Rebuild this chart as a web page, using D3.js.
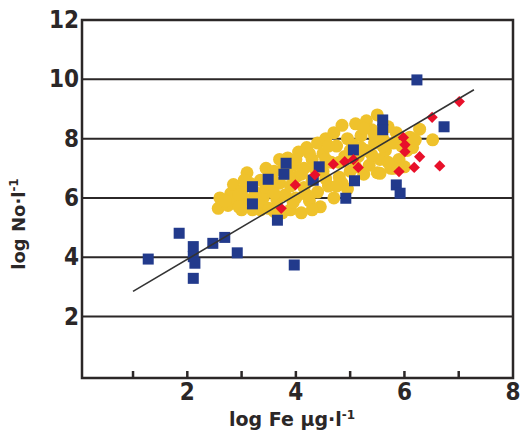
<!DOCTYPE html>
<html>
<head>
<meta charset="utf-8">
<script src="https://cdn.jsdelivr.net/npm/d3@7"></script>
<style>
  body { margin: 0; background: #fff; }
  svg { display: block; }
</style>
</head>
<body>
<div id="chart"></div>
<script>
// --- data (log Fe, log No) ---
const yTicks = [2, 4, 6, 8, 10, 12];
const xTickLabels = [2, 4, 6, 8];
const xTickMarks = [1, 2, 3, 4, 5, 6, 7];

// yellow circles
const circlePts = [
  [2.57, 5.65], [2.60, 6.00], [2.75, 5.75], [2.80, 6.15], [2.85, 6.45], [2.90, 5.90],
  [3.00, 5.60], [3.00, 6.25], [3.10, 6.85], [3.10, 5.95], [3.20, 5.60], [3.25, 6.20],
  [3.35, 5.60], [3.35, 6.60], [3.40, 6.00], [3.45, 7.00], [3.50, 5.65], [3.55, 6.30],
  [3.60, 6.90], [3.65, 5.95], [3.70, 7.30], [3.70, 6.50], [3.75, 5.50], [3.80, 6.10],
  [3.85, 6.80], [3.85, 7.35], [3.90, 5.60], [3.95, 7.10], [4.00, 6.00], [4.00, 6.70],
  [4.05, 7.55], [4.10, 5.50], [4.15, 6.35], [4.15, 7.00], [4.20, 7.70], [4.25, 5.90],
  [4.30, 6.60], [4.30, 7.30], [4.40, 6.20], [4.40, 7.85], [4.45, 5.70], [4.50, 6.90],
  [4.50, 7.50], [4.55, 8.00], [4.60, 6.40], [4.65, 7.20], [4.70, 8.20], [4.70, 6.00],
  [4.75, 7.75], [4.80, 6.70], [4.85, 8.45], [4.90, 7.40], [4.95, 6.30], [4.95, 8.00],
  [5.00, 6.90], [5.05, 7.80], [5.10, 8.50], [5.15, 7.40], [5.20, 8.10], [5.25, 6.80],
  [5.30, 8.60], [5.30, 7.60], [5.35, 7.10], [5.40, 8.30], [5.45, 7.85], [5.50, 8.80],
  [5.50, 6.85], [5.55, 7.30], [5.60, 8.00], [5.65, 7.60], [5.70, 8.40], [5.75, 7.00],
  [5.80, 7.85], [5.85, 8.20], [5.90, 7.30], [6.00, 7.05], [6.05, 7.60], [6.10, 8.05],
  [6.15, 7.70], [6.28, 8.32], [6.52, 7.96], [5.55, 6.83], [5.80, 7.00],
  [2.70, 5.90], [2.95, 6.10], [3.15, 6.50], [3.30, 5.85], [3.45, 6.35], [3.60, 6.15],
  [3.90, 6.40], [3.95, 5.85], [4.10, 6.80], [4.20, 6.10], [4.35, 7.00], [4.55, 6.65],
  [4.60, 7.75], [4.80, 7.20], [4.85, 6.50], [5.00, 7.60], [5.10, 7.05], [5.20, 7.70],
  [5.25, 8.35], [5.40, 7.45], [5.45, 8.10], [5.60, 7.75], [5.70, 7.20], [5.95, 7.75],
  [6.20, 7.95], [4.55, 7.30], [4.25, 7.50], [3.75, 6.95], [3.55, 6.70], [3.05, 6.60],
  [4.00, 7.30], [4.75, 6.40], [4.30, 5.60], [3.60, 5.55], [2.95, 5.70]
];

// blue squares
const squarePts = [
  [1.28, 3.94], [1.85, 4.81], [2.11, 4.36], [2.11, 4.02], [2.14, 3.80], [2.11, 3.29],
  [2.47, 4.47], [2.69, 4.67], [2.92, 4.15], [3.66, 5.25], [3.97, 3.74], [3.20, 6.38],
  [3.20, 5.80], [3.49, 6.63], [3.82, 7.17], [3.78, 6.80], [4.43, 7.05], [4.32, 6.60],
  [5.60, 8.63], [5.60, 8.30], [5.06, 7.62], [5.08, 6.58], [4.92, 5.99], [5.85, 6.44],
  [5.92, 6.16], [6.23, 9.98], [6.73, 8.40]
];

// red diamonds
const diamondPts = [
  [3.73, 5.65], [3.99, 6.44], [4.35, 6.78], [4.69, 7.14], [4.90, 7.22], [5.06, 7.29],
  [5.15, 7.03], [5.90, 6.89], [5.98, 8.04], [6.01, 7.79], [6.01, 7.56], [6.18, 7.03],
  [6.28, 7.39], [6.65, 7.08], [6.51, 8.72], [7.01, 9.25]
];

// regression line end points
const fitLine = [[1.0, 2.85], [7.28, 9.65]];

const width = 523, height = 437;
const marginLeft = 82, plotRight = 513, plotTop = 20, plotBottom = 378;

const x = d3.scaleLinear().domain([0.06, 8]).range([marginLeft, plotRight]);
const y = d3.scaleLinear().domain([-0.07, 12]).range([plotBottom, plotTop]);

const svg = d3.select("#chart").append("svg")
    .attr("width", width)
    .attr("height", height)
    .attr("viewBox", [0, 0, width, height]);

const numFont = "'Liberation Sans Narrow', 'DejaVu Sans Condensed', sans-serif";
const titleFont = "'DejaVu Sans', sans-serif";
const ink = "#2b2727";

// grid lines
svg.append("g")
    .selectAll("line")
    .data(yTicks.slice(0, -1))
    .join("line")
    .attr("x1", marginLeft).attr("x2", plotRight)
    .attr("y1", d => y(d)).attr("y2", d => y(d))
    .attr("stroke", ink)
    .attr("stroke-width", 2);

// frame
svg.append("path")
    .attr("d", `M${marginLeft},${y(12)}H${plotRight}V${plotBottom}H${marginLeft}Z`)
    .attr("fill", "none")
    .attr("stroke", ink)
    .attr("stroke-width", 2.5);

// x tick marks pointing inward
svg.append("g")
    .selectAll("line")
    .data(xTickMarks)
    .join("line")
    .attr("x1", d => x(d)).attr("x2", d => x(d))
    .attr("y1", plotBottom).attr("y2", plotBottom - 7)
    .attr("stroke", ink)
    .attr("stroke-width", 2.5);

// y tick labels
svg.append("g")
    .selectAll("text")
    .data(yTicks)
    .join("text")
    .attr("x", marginLeft - 3)
    .attr("y", d => y(d) + 1)
    .attr("text-anchor", "end")
    .attr("dominant-baseline", "middle")
    .attr("font-family", numFont)
    .attr("font-weight", "bold")
    .attr("font-size", 24)
    .attr("fill", ink)
    .text(d => d);

// x tick labels
svg.append("g")
    .selectAll("text")
    .data(xTickLabels)
    .join("text")
    .attr("x", d => x(d))
    .attr("y", 400)
    .attr("text-anchor", "middle")
    .attr("font-family", numFont)
    .attr("font-weight", "bold")
    .attr("font-size", 24)
    .attr("fill", ink)
    .text(d => d);

// axis titles
const xt = svg.append("text")
    .attr("x", 292).attr("y", 426)
    .attr("text-anchor", "middle")
    .attr("font-family", titleFont)
    .attr("font-weight", "bold")
    .attr("font-size", 19)
    .attr("fill", ink);
xt.append("tspan").text("log Fe μg·l");
xt.append("tspan").attr("dy", -7).attr("font-size", 12).text("-1");

const yt = svg.append("text")
    .attr("transform", "translate(25,224) rotate(-90)")
    .attr("text-anchor", "middle")
    .attr("font-family", titleFont)
    .attr("font-weight", "bold")
    .attr("font-size", 18)
    .attr("fill", ink);
yt.append("tspan").text("log No·l");
yt.append("tspan").attr("dy", -7).attr("font-size", 12).text("-1");

// points
svg.append("g")
    .selectAll("circle")
    .data(circlePts)
    .join("circle")
    .attr("cx", d => x(d[0]))
    .attr("cy", d => y(d[1]))
    .attr("r", 6.5)
    .attr("fill", "#efc22c");

svg.append("g")
    .selectAll("rect")
    .data(squarePts)
    .join("rect")
    .attr("x", d => x(d[0]) - 5.5)
    .attr("y", d => y(d[1]) - 5.5)
    .attr("width", 11)
    .attr("height", 11)
    .attr("fill", "#223a8c");

svg.append("g")
    .selectAll("path")
    .data(diamondPts)
    .join("path")
    .attr("transform", d => `translate(${x(d[0])},${y(d[1])}) rotate(45)`)
    .attr("d", d3.symbol(d3.symbolSquare, 64))
    .attr("fill", "#e8102a");

// regression line
svg.append("line")
    .attr("x1", x(fitLine[0][0])).attr("y1", y(fitLine[0][1]))
    .attr("x2", x(fitLine[1][0])).attr("y2", y(fitLine[1][1]))
    .attr("stroke", "#333")
    .attr("stroke-width", 1.6);
</script>
</body>
</html>
